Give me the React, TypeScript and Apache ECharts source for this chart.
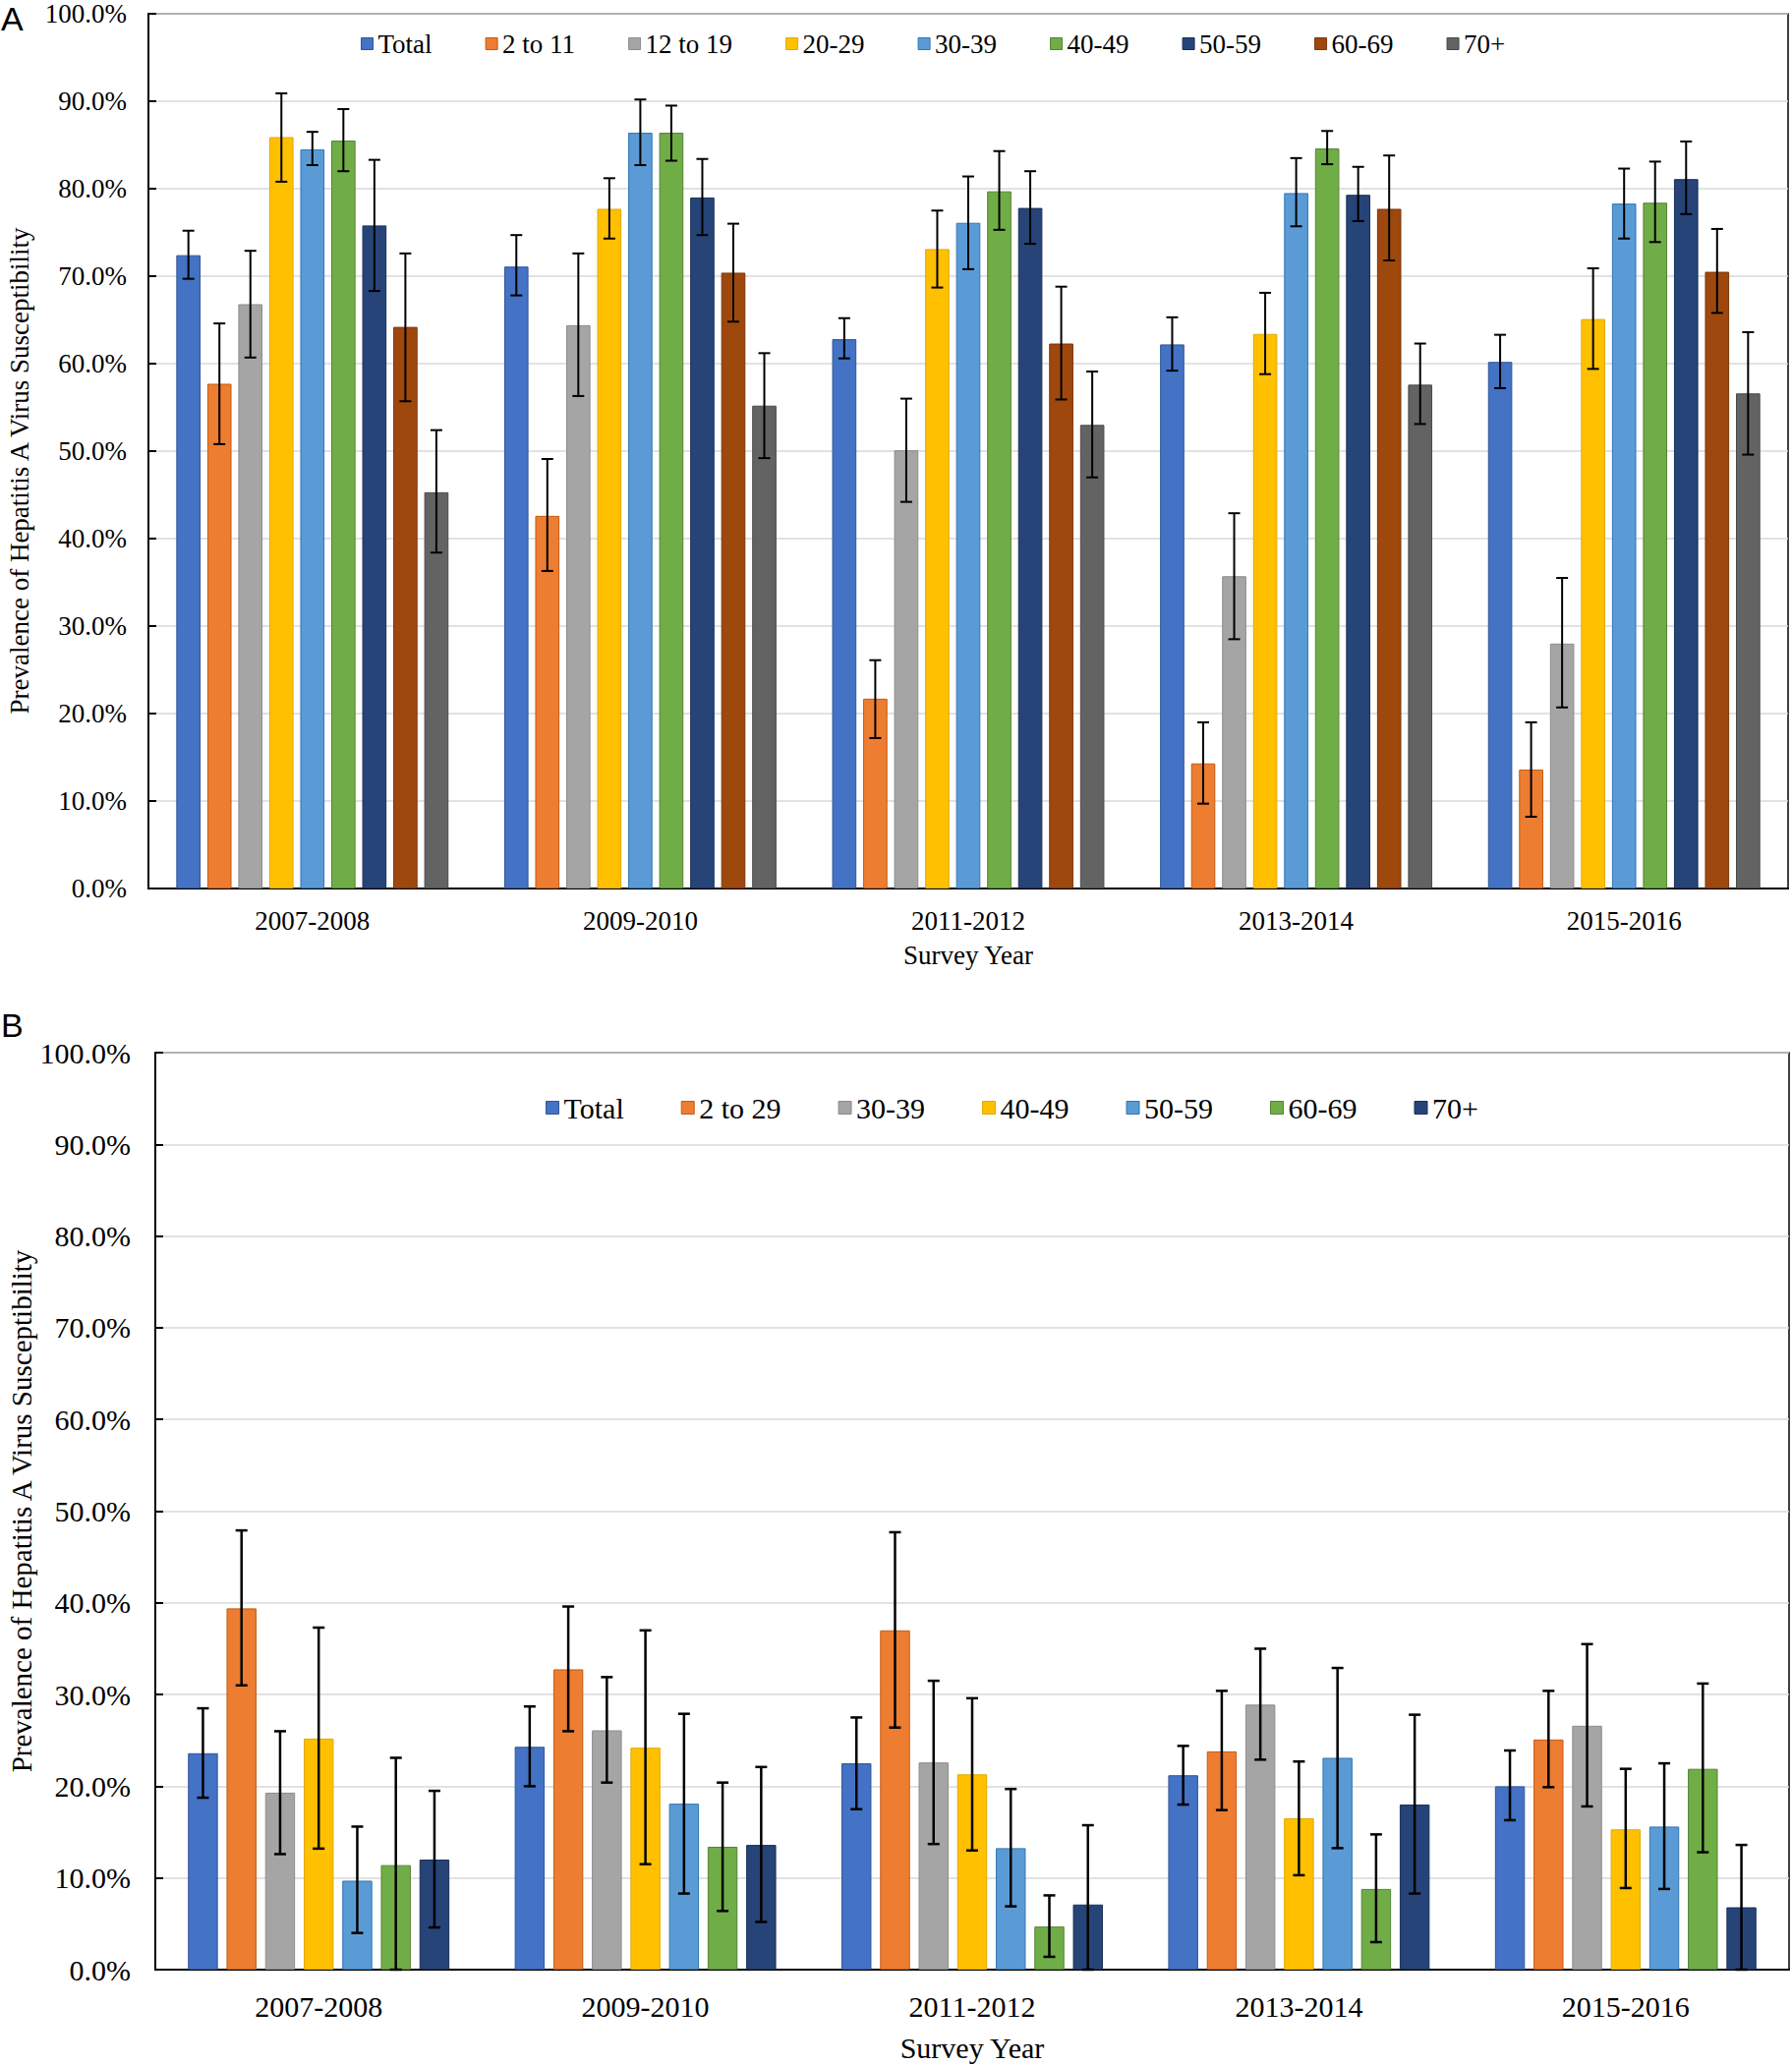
import React, { useEffect, useRef } from 'react';
import * as echarts from 'echarts';

// ---------- DATA ----------
const years = ['2007-2008', '2009-2010', '2011-2012', '2013-2014', '2015-2016'];
const yTicksMax = 100;

// Panel A
const namesA = ['Total', '2 to 11', '12 to 19', '20-29', '30-39', '40-49', '50-59', '60-69', '70+'];
const valA_total = [72.4, 71.1, 62.8, 62.2, 60.2];
const loA_total = [69.7, 67.8, 60.6, 59.2, 57.2];
const hiA_total = [75.2, 74.7, 65.2, 65.3, 63.3];
const valA_2to11 = [57.7, 42.6, 21.7, 14.3, 13.6];
const loA_2to11 = [50.8, 36.3, 17.2, 9.7, 8.2];
const hiA_2to11 = [64.6, 49.1, 26.1, 19.0, 19.0];
const valA_12to19 = [66.8, 64.4, 50.1, 35.7, 28.0];
const loA_12to19 = [60.7, 56.3, 44.2, 28.5, 20.7];
const hiA_12to19 = [72.9, 72.6, 56.0, 42.9, 35.5];
const valA_20s = [85.9, 77.7, 73.1, 63.4, 65.1];
const loA_20s = [80.8, 74.3, 68.7, 58.8, 59.4];
const hiA_20s = [90.9, 81.2, 77.5, 68.1, 70.9];
const valA_30s = [84.5, 86.4, 76.1, 79.5, 78.3];
const loA_30s = [82.7, 82.7, 70.8, 75.7, 74.3];
const hiA_30s = [86.5, 90.2, 81.4, 83.5, 82.3];
const valA_40s = [85.5, 86.4, 79.7, 84.6, 78.4];
const loA_40s = [82.0, 83.2, 75.3, 82.8, 73.9];
const hiA_40s = [89.1, 89.5, 84.3, 86.6, 83.1];
const valA_50s = [75.8, 79.0, 77.8, 79.3, 81.1];
const loA_50s = [68.3, 74.7, 73.7, 76.3, 77.1];
const hiA_50s = [83.3, 83.4, 82.0, 82.5, 85.4];
const valA_60s = [64.2, 70.4, 62.3, 77.7, 70.5];
const loA_60s = [55.7, 64.8, 55.9, 71.8, 65.8];
const hiA_60s = [72.6, 76.0, 68.8, 83.8, 75.4];
const valA_70p = [45.3, 55.2, 53.0, 57.6, 56.6];
const loA_70p = [38.4, 49.2, 47.0, 53.1, 49.6];
const hiA_70p = [52.4, 61.2, 59.1, 62.3, 63.6];

// Panel B
const namesB = ['Total', '2 to 29', '30-39', '40-49', '50-59', '60-69', '70+'];
const valB_total = [23.6, 24.3, 22.5, 21.2, 20.0];
const loB_total = [18.75, 20.0, 17.5, 18.0, 16.3];
const hiB_total = [28.5, 28.7, 27.5, 24.4, 23.9];
const valB_2to29 = [39.4, 32.75, 37.0, 23.8, 25.1];
const loB_2to29 = [31.0, 26.0, 26.4, 17.4, 19.9];
const hiB_2to29 = [47.9, 39.6, 47.7, 30.4, 30.4];
const valB_30s = [19.3, 26.1, 22.6, 28.9, 26.6];
const loB_30s = [12.6, 20.4, 13.7, 22.9, 17.8];
const hiB_30s = [26.0, 31.9, 31.5, 35.0, 35.5];
const valB_40s = [25.2, 24.2, 21.3, 16.5, 15.3];
const loB_40s = [13.2, 11.5, 13.0, 10.3, 8.9];
const hiB_40s = [37.3, 37.0, 29.6, 22.7, 21.9];
const valB_50s = [9.7, 18.1, 13.25, 23.1, 15.6];
const loB_50s = [4.0, 8.3, 6.9, 13.25, 8.8];
const hiB_50s = [15.6, 27.9, 19.7, 32.9, 22.5];
const valB_60s = [11.4, 13.4, 4.7, 8.8, 21.9];
const loB_60s = [0, 6.4, 1.4, 3.0, 12.8];
const hiB_60s = [23.1, 20.4, 8.1, 14.75, 31.2];
const valB_70p = [12.0, 13.6, 7.1, 18.0, 6.8];
const loB_70p = [4.6, 5.2, 0, 8.3, 0];
const hiB_70p = [19.5, 22.1, 15.75, 27.8, 13.6];

// ---------- STYLE ----------
const colorsA = ['#4472C4', '#ED7D31', '#A5A5A5', '#FFC000', '#5B9BD5', '#70AD47', '#264478', '#9E480E', '#636363'];
const bordersA = ['#2F5597', '#C55A11', '#8C8C8C', '#E0A800', '#2E75B6', '#548235', '#1A2F55', '#7A360A', '#4A4A4A'];
const colorsB = ['#4472C4', '#ED7D31', '#A5A5A5', '#FFC000', '#5B9BD5', '#70AD47', '#264478'];
const bordersB = ['#2F5597', '#C55A11', '#8C8C8C', '#E0A800', '#2E75B6', '#548235', '#1A2F55'];
const FONT = "'Times New Roman', 'Liberation Serif', serif";

function buildPanel(
  names: string[], vals: number[][], los: number[][], his: number[][],
  colors: string[], borders: string[], axisIdx: number,
  catGap: number, gap: number, capW: number, lw: number, prefix: string
) {
  const n = names.length;
  const series: any[] = [];
  names.forEach((name, i) => {
    series.push({
      type: 'bar', name, xAxisIndex: axisIdx, yAxisIndex: axisIdx,
      data: vals[i],
      barGap: gap * 100 + '%', barCategoryGap: catGap * 100 + '%',
      itemStyle: { color: colors[i], borderColor: borders[i], borderWidth: 1 },
      z: 2,
    });
  });
  names.forEach((name, i) => {
    series.push({
      type: 'custom', name: prefix + i, xAxisIndex: axisIdx, yAxisIndex: axisIdx,
      silent: true, z: 5,
      data: years.map((_, k) => [k, los[i][k], his[i][k]]),
      encode: { x: 0, y: [1, 2] },
      renderItem: (params: any, api: any) => {
        const k = api.value(0);
        const p1 = api.coord([k, api.value(1)]);
        const p2 = api.coord([k, api.value(2)]);
        const band = api.size([1, 0])[0];
        const bw = (band * (1 - catGap)) / (n + (n - 1) * gap);
        const x = p1[0] + (i - (n - 1) / 2) * bw * (1 + gap);
        const h = capW / 2;
        const style = { stroke: '#000', lineWidth: lw };
        return {
          type: 'group',
          children: [
            { type: 'line', shape: { x1: x, y1: p1[1], x2: x, y2: p2[1] }, style },
            { type: 'line', shape: { x1: x - h, y1: p1[1], x2: x + h, y2: p1[1] }, style },
            { type: 'line', shape: { x1: x - h, y1: p2[1], x2: x + h, y2: p2[1] }, style },
          ],
        };
      },
    });
  });
  return series;
}

function yAxisCfg(gridIndex: number, fs: number, nameFs: number, nameGap: number, labelMargin: number, namePad: number[], labelPad: number[]) {
  return {
    type: 'value', gridIndex, min: 0, max: yTicksMax, interval: 10,
    name: 'Prevalence of Hepatitis A Virus Susceptibility',
    nameLocation: 'middle', nameGap, nameMoveOverlap: false,
    nameTextStyle: { fontFamily: FONT, fontSize: nameFs, color: '#000', padding: namePad },
    axisLine: { show: true, lineStyle: { color: '#000', width: 2 } },
    axisTick: { show: true, inside: true, length: 8, lineStyle: { color: '#000', width: 2 } },
    axisLabel: {
      fontFamily: FONT, fontSize: fs, color: '#000', margin: labelMargin, padding: labelPad,
      formatter: (v: number) => v.toFixed(1) + '%',
    },
    splitLine: { show: true, lineStyle: { color: '#D9D9D9', width: 1.5 } },
  };
}

function xAxisCfg(gridIndex: number, fs: number, nameGap: number, labelMargin: number) {
  return {
    type: 'category', gridIndex, data: years,
    name: 'Survey Year', nameLocation: 'middle', nameGap, nameMoveOverlap: false,
    nameTextStyle: { fontFamily: FONT, fontSize: fs, color: '#000' },
    axisLine: { show: true, lineStyle: { color: '#000', width: 2 } },
    axisTick: { show: false },
    axisLabel: { fontFamily: FONT, fontSize: fs, color: '#000', margin: labelMargin },
  };
}

function buildOption() {
  const seriesA = buildPanel(
    namesA,
    [valA_total, valA_2to11, valA_12to19, valA_20s, valA_30s, valA_40s, valA_50s, valA_60s, valA_70p],
    [loA_total, loA_2to11, loA_12to19, loA_20s, loA_30s, loA_40s, loA_50s, loA_60s, loA_70p],
    [hiA_total, hiA_2to11, hiA_12to19, hiA_20s, hiA_30s, hiA_40s, hiA_50s, hiA_60s, hiA_70p],
    colorsA, bordersA, 0, 0.17, 0.28, 12, 2, 'errA'
  );
  const seriesB = buildPanel(
    namesB,
    [valB_total, valB_2to29, valB_30s, valB_40s, valB_50s, valB_60s, valB_70p],
    [loB_total, loB_2to29, loB_30s, loB_40s, loB_50s, loB_60s, loB_70p],
    [hiB_total, hiB_2to29, hiB_30s, hiB_40s, hiB_50s, hiB_60s, hiB_70p],
    colorsB, bordersB, 1, 0.2, 0.29, 12, 2.5, 'errB'
  );

  return {
    animation: false,
    backgroundColor: '#fff',
    grid: [
      { left: 151, right: 4, top: 14, bottom: 1196, show: true, borderColor: '#000', borderWidth: 1.5, containLabel: false, outerBoundsMode: 'none' },
      { left: 158, right: 3, top: 1071, bottom: 96, show: true, borderColor: '#000', borderWidth: 1.5, containLabel: false, outerBoundsMode: 'none' },
    ],
    legend: [
      {
        data: namesA.map((n, i) => ({ name: n, itemStyle: { color: colorsA[i], borderColor: bordersA[i], borderWidth: 1 } })),
        left: 362, top: 26, icon: 'rect', itemWidth: 12, itemHeight: 12, itemGap: 54,
        textStyle: { fontFamily: FONT, fontSize: 27, color: '#000' },
        selectedMode: false,
      },
      {
        data: namesB.map((n, i) => ({ name: n, itemStyle: { color: colorsB[i], borderColor: bordersB[i], borderWidth: 1 } })),
        left: 550, top: 1107, icon: 'rect', itemWidth: 13, itemHeight: 13, itemGap: 58,
        textStyle: { fontFamily: FONT, fontSize: 30, color: '#000' },
        selectedMode: false,
      },
    ],
    xAxis: [xAxisCfg(0, 27, 54, 19), xAxisCfg(1, 30, 64, 22)],
    yAxis: [
      yAxisCfg(0, 27, 27, 118, 22, [0, 40, 0, 0], [4, 0, 0, 0]),
      yAxisCfg(1, 30, 29, 122, 25, [0, 0, 0, 0], [0, 0, 0, 0]),
    ],
    graphic: [
      { type: 'text', left: 1, top: 2, style: { text: 'A', font: "34px 'Liberation Sans', Arial, sans-serif", fill: '#000' } },
      { type: 'text', left: 1, top: 1026, style: { text: 'B', font: "34px 'Liberation Sans', Arial, sans-serif", fill: '#000' } },
    ],
    series: [...seriesA, ...seriesB],
  };
}

export default function App() {
  const ref = useRef<HTMLDivElement>(null);
  useEffect(() => {
    if (!ref.current) return;
    const chart = echarts.init(ref.current, null, { renderer: 'svg' });
    chart.setOption(buildOption() as any);
    return () => chart.dispose();
  }, []);
  return (
    <div
      ref={ref}
      style={{ position: 'absolute', left: 0, top: 0, width: 1823, height: 2100, background: '#fff' }}
    />
  );
}
